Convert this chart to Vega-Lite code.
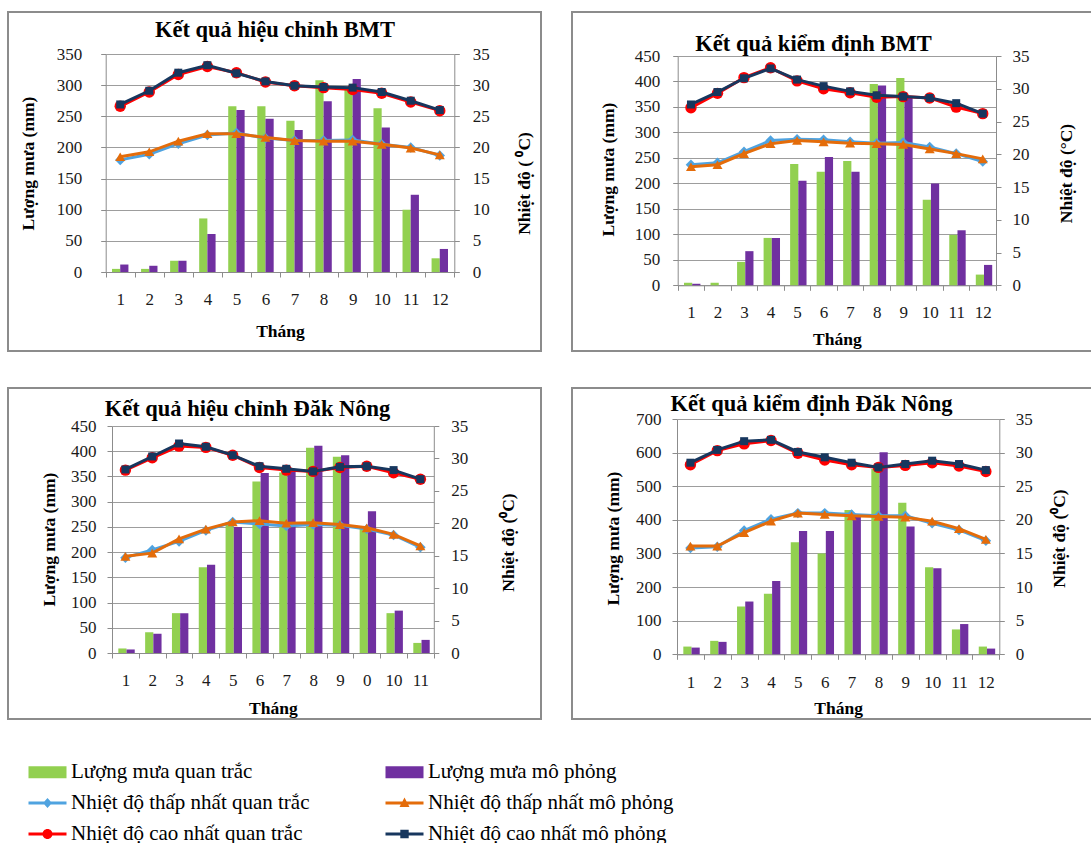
{
  "$schema": "https://vega.github.io/schema/vega-lite/v6.json",
  "padding": {"left": 7, "top": 11, "right": 0, "bottom": 0},
  "background": "white",
  "data": {"values": [
    {"p":"a","m":"1","ro":5,"rs":12,"tno":18.0,"tns":18.5,"txo":26.6,"txs":26.9},
    {"p":"a","m":"2","ro":5,"rs":10,"tno":18.9,"tns":19.3,"txo":28.9,"txs":29.1},
    {"p":"a","m":"3","ro":18,"rs":18,"tno":20.6,"tns":21.0,"txo":31.7,"txs":32.0},
    {"p":"a","m":"4","ro":86,"rs":61,"tno":22.0,"tns":22.2,"txo":33.0,"txs":33.2},
    {"p":"a","m":"5","ro":266,"rs":260,"tno":22.3,"tns":22.2,"txo":32.0,"txs":31.9},
    {"p":"a","m":"6","ro":266,"rs":246,"tno":21.5,"tns":21.6,"txo":30.5,"txs":30.6},
    {"p":"a","m":"7","ro":243,"rs":228,"tno":21.1,"tns":21.1,"txo":29.9,"txs":29.9},
    {"p":"a","m":"8","ro":308,"rs":274,"tno":21.1,"tns":21.0,"txo":29.6,"txs":29.7},
    {"p":"a","m":"9","ro":293,"rs":310,"tno":21.2,"tns":21.0,"txo":29.3,"txs":29.6},
    {"p":"a","m":"10","ro":263,"rs":232,"tno":20.5,"tns":20.5,"txo":28.7,"txs":28.9},
    {"p":"a","m":"11","ro":100,"rs":124,"tno":20.0,"tns":19.9,"txo":27.3,"txs":27.5},
    {"p":"a","m":"12","ro":22,"rs":37,"tno":18.7,"tns":18.8,"txo":25.9,"txs":26.0},
    {"p":"b","m":"1","ro":5,"rs":3,"tno":18.4,"tns":18.1,"txo":27.1,"txs":27.6},
    {"p":"b","m":"2","ro":5,"rs":0,"tno":18.7,"tns":18.4,"txo":29.3,"txs":29.5},
    {"p":"b","m":"3","ro":46,"rs":67,"tno":20.4,"tns":20.1,"txo":31.7,"txs":31.6},
    {"p":"b","m":"4","ro":93,"rs":93,"tno":22.1,"tns":21.6,"txo":33.2,"txs":33.1},
    {"p":"b","m":"5","ro":238,"rs":205,"tno":22.3,"tns":22.1,"txo":31.2,"txs":31.4},
    {"p":"b","m":"6","ro":223,"rs":252,"tno":22.2,"tns":21.9,"txo":30.0,"txs":30.4},
    {"p":"b","m":"7","ro":244,"rs":223,"tno":21.9,"tns":21.7,"txo":29.4,"txs":29.6},
    {"p":"b","m":"8","ro":395,"rs":392,"tno":21.7,"tns":21.6,"txo":28.7,"txs":29.0},
    {"p":"b","m":"9","ro":407,"rs":370,"tno":21.8,"tns":21.5,"txo":28.8,"txs":28.8},
    {"p":"b","m":"10","ro":168,"rs":200,"tno":21.1,"tns":20.8,"txo":28.6,"txs":28.6},
    {"p":"b","m":"11","ro":99,"rs":108,"tno":20.1,"tns":20.1,"txo":27.2,"txs":27.8},
    {"p":"b","m":"12","ro":21,"rs":40,"tno":18.9,"tns":19.3,"txo":26.2,"txs":26.2},
    {"p":"c","m":"1","ro":9,"rs":7,"tno":14.7,"tns":14.9,"txo":28.2,"txs":28.3},
    {"p":"c","m":"2","ro":41,"rs":38,"tno":15.9,"tns":15.4,"txo":30.1,"txs":30.3},
    {"p":"c","m":"3","ro":79,"rs":79,"tno":17.2,"tns":17.6,"txo":31.9,"txs":32.3},
    {"p":"c","m":"4","ro":170,"rs":175,"tno":18.9,"tns":19.1,"txo":31.7,"txs":31.8},
    {"p":"c","m":"5","ro":258,"rs":250,"tno":20.2,"tns":20.2,"txo":30.5,"txs":30.5},
    {"p":"c","m":"6","ro":340,"rs":357,"tno":19.9,"tns":20.4,"txo":28.6,"txs":28.8},
    {"p":"c","m":"7","ro":358,"rs":362,"tno":19.6,"tns":20.0,"txo":28.2,"txs":28.4},
    {"p":"c","m":"8","ro":407,"rs":411,"tno":19.8,"tns":20.1,"txo":28.0,"txs":28.0},
    {"p":"c","m":"9","ro":389,"rs":392,"tno":19.7,"tns":19.8,"txo":28.6,"txs":28.7},
    {"p":"c","m":"0","ro":250,"rs":281,"tno":19.1,"tns":19.3,"txo":28.8,"txs":28.8},
    {"p":"c","m":"10","ro":79,"rs":84,"tno":18.2,"tns":18.3,"txo":27.8,"txs":28.2},
    {"p":"c","m":"11","ro":20,"rs":26,"tno":16.3,"tns":16.5,"txo":26.8,"txs":26.8},
    {"p":"d","m":"1","ro":23,"rs":20,"tno":15.8,"tns":16.1,"txo":28.2,"txs":28.5},
    {"p":"d","m":"2","ro":40,"rs":37,"tno":16.0,"tns":16.1,"txo":30.3,"txs":30.4},
    {"p":"d","m":"3","ro":142,"rs":157,"tno":18.4,"tns":18.1,"txo":31.3,"txs":31.7},
    {"p":"d","m":"4","ro":180,"rs":218,"tno":20.1,"tns":19.8,"txo":31.8,"txs":31.9},
    {"p":"d","m":"5","ro":333,"rs":367,"tno":21.0,"tns":21.0,"txo":29.9,"txs":30.1},
    {"p":"d","m":"6","ro":300,"rs":367,"tno":21.0,"tns":20.8,"txo":28.9,"txs":29.3},
    {"p":"d","m":"7","ro":429,"rs":412,"tno":20.8,"tns":20.6,"txo":28.2,"txs":28.5},
    {"p":"d","m":"8","ro":551,"rs":601,"tno":20.6,"tns":20.5,"txo":27.8,"txs":27.8},
    {"p":"d","m":"9","ro":451,"rs":380,"tno":20.6,"tns":20.4,"txo":28.1,"txs":28.3},
    {"p":"d","m":"10","ro":259,"rs":256,"tno":19.5,"tns":19.8,"txo":28.5,"txs":28.8},
    {"p":"d","m":"11","ro":74,"rs":90,"tno":18.5,"tns":18.7,"txo":28.0,"txs":28.3},
    {"p":"d","m":"12","ro":23,"rs":17,"tno":16.9,"tns":17.1,"txo":27.2,"txs":27.4}
  ]},
  "spacing": 29,
  "hconcat": [
    {
      "spacing": 35,
      "vconcat": [
        {
          "width": 533, "height": 339,
          "transform": [{"filter": "datum.p == 'a'"}],
          "layer": [
            {"transform": [{"fold": ["ro", "rs"], "as": ["s", "v"]}],
             "mark": {"type": "bar"},
             "encoding": {
               "x": {"field": "m", "type": "ordinal", "sort": null, "title": "Tháng",
                 "scale": {"range": [97.7, 446.3], "paddingInner": 0, "paddingOuter": 0},
                 "axis": {"offset": -79, "labelAngle": 0, "tickBand": "extent", "labelPadding": 14, "titleY": 59, "titleBaseline": "middle", "grid": false}},
               "xOffset": {"field": "s", "type": "nominal", "sort": ["ro", "rs"], "scale": {"paddingInner": 0, "paddingOuter": 0.77}},
               "y": {"field": "v", "type": "quantitative", "scale": {"domain": [0, 350], "range": [260, 42], "nice": false},
                 "axis": {"orient": "left", "values": [0, 50, 100, 150, 200, 250, 300, 350], "offset": -97.7, "labelPadding": 19, "title": "Lượng mưa (mm)", "titleX": -77.7, "titleY": 151, "titleAngle": 270, "titleAlign": "center", "titleBaseline": "middle", "grid": true}},
               "color": {"field": "s", "type": "nominal",
                 "scale": {"domain": ["ro", "rs", "tno", "tns", "txo", "txs"], "range": ["#92D050", "#7030A0", "#4FA3E0", "#E46C0A", "#FF0000", "#17375E"]},
                 "legend": {
                   "orient": "none", "legendX": 29, "legendY": 749.5, "direction": "horizontal", "columns": 2, "columnPadding": 75, "rowPadding": 9,
                   "title": null, "symbolSize": 400, "labelOffset": 13, "labelFont": "Liberation Serif", "labelFontSize": 21, "labelColor": "#000", "labelLimit": 400, "padding": 0,
                   "labelExpr": "datum.value == 'ro' ? 'Lượng mưa quan trắc' : datum.value == 'rs' ? 'Lượng mưa mô phỏng' : datum.value == 'tno' ? 'Nhiệt độ thấp nhất quan trắc' : datum.value == 'tns' ? 'Nhiệt độ thấp nhất mô phỏng' : datum.value == 'txo' ? 'Nhiệt độ cao nhất quan trắc' : 'Nhiệt độ cao nhất mô phỏng'",
                   "encode": {"symbols": {"update": {
                     "shape": {"signal": "(datum.value == 'ro' || datum.value == 'rs') ? 'M-1.9,-0.6H1.9V0.6H-1.9Z' : datum.value == 'tno' ? 'M-1.9,-0.15H1.9V0.15H-1.9Z M0,-0.5L0.45,0L0,0.5L-0.45,0Z' : datum.value == 'tns' ? 'M-1.9,-0.15H1.9V0.15H-1.9Z M0,-0.55L0.5,0.4L-0.5,0.4Z' : datum.value == 'txo' ? 'M-1.9,-0.15H1.9V0.15H-1.9Z M-0.5,0A0.5,0.5,0,1,1,0.5,0A0.5,0.5,0,1,1,-0.5,0Z' : 'M-1.9,-0.15H1.9V0.15H-1.9Z M-0.42,-0.42H0.42V0.42H-0.42Z'"},
                     "fill": {"scale": "color", "field": "value"},
                     "stroke": {"value": "transparent"},
                     "strokeWidth": {"value": 0},
                     "opacity": {"value": 1}
                   }}}
                 }}
             }},
            {"transform": [{"fold": ["tno", "tns", "txo", "txs"], "as": ["s", "t"]}],
             "encoding": {
               "x": {"field": "m", "type": "ordinal", "sort": null,
                 "scale": {"range": [97.7, 446.3], "paddingInner": 0, "paddingOuter": 0},
                 "axis": {"orient": "top", "offset": 0, "labels": false, "ticks": false, "domain": false, "grid": false, "title": "Kết quả hiệu chỉnh BMT", "titleFontSize": 22.5, "titleX": 266.5, "titleY": 17, "titleAngle": 0, "titleAlign": "center", "titleBaseline": "middle"}},
               "y": {"field": "t", "type": "quantitative", "scale": {"domain": [0, 35], "range": [260, 42], "nice": false},
                 "axis": {"orient": "right", "values": [0, 5, 10, 15, 20, 25, 30, 35], "offset": -86.7, "labelPadding": 13, "title": "Nhiệt độ ( ⁰C)", "titleX": 70, "titleY": 171, "titleAngle": 270, "titleAlign": "center", "titleBaseline": "middle", "grid": false}},
               "color": {"field": "s", "type": "nominal", "legend": null}},
             "layer": [
               {"transform": [{"filter": "datum.s == 'tno'"}], "mark": {"type": "line", "strokeWidth": 3, "point": {"shape": "diamond", "size": 110, "filled": true, "opacity": 1}}},
               {"transform": [{"filter": "datum.s == 'tns'"}], "mark": {"type": "line", "strokeWidth": 3, "point": {"shape": "triangle-up", "size": 100, "filled": true, "opacity": 1}}},
               {"transform": [{"filter": "datum.s == 'txo'"}], "mark": {"type": "line", "strokeWidth": 3, "point": {"shape": "circle", "size": 130, "filled": true, "opacity": 1}}},
               {"transform": [{"filter": "datum.s == 'txs'"}], "mark": {"type": "line", "strokeWidth": 3, "point": {"shape": "square", "size": 64, "filled": true, "opacity": 1}}}
             ]}
          ],
          "resolve": {"scale": {"x": "independent", "y": "independent"}}
        },
        {
          "width": 533, "height": 331,
          "transform": [{"filter": "datum.p == 'c'"}],
          "layer": [
            {"transform": [{"fold": ["ro", "rs"], "as": ["s", "v"]}],
             "mark": {"type": "bar"},
             "encoding": {
               "x": {"field": "m", "type": "ordinal", "sort": null, "title": "Tháng",
                 "scale": {"range": [104, 425.8], "paddingInner": 0, "paddingOuter": 0},
                 "axis": {"offset": -66, "labelAngle": 0, "tickBand": "extent", "labelPadding": 14, "titleY": 55, "titleBaseline": "middle", "grid": false}},
               "xOffset": {"field": "s", "type": "nominal", "sort": ["ro", "rs"], "scale": {"paddingInner": 0, "paddingOuter": 0.63}},
               "y": {"field": "v", "type": "quantitative", "scale": {"domain": [0, 450], "range": [265, 38], "nice": false},
                 "axis": {"orient": "left", "values": [0, 50, 100, 150, 200, 250, 300, 350, 400, 450], "offset": -104, "labelPadding": 11, "title": "Lượng mưa (mm)", "titleX": -63, "titleY": 151, "titleAngle": 270, "titleAlign": "center", "titleBaseline": "middle", "grid": true}},
               "color": {"field": "s", "type": "nominal", "legend": null}
             }},
            {"transform": [{"fold": ["tno", "tns", "txo", "txs"], "as": ["s", "t"]}],
             "encoding": {
               "x": {"field": "m", "type": "ordinal", "sort": null,
                 "scale": {"range": [104, 425.8], "paddingInner": 0, "paddingOuter": 0},
                 "axis": {"orient": "top", "offset": 0, "labels": false, "ticks": false, "domain": false, "grid": false, "title": "Kết quả hiệu chỉnh Đăk Nông", "titleFontSize": 22.5, "titleX": 239, "titleY": 20, "titleAngle": 0, "titleAlign": "center", "titleBaseline": "middle"}},
               "y": {"field": "t", "type": "quantitative", "scale": {"domain": [0, 35], "range": [265, 38], "nice": false},
                 "axis": {"orient": "right", "values": [0, 5, 10, 15, 20, 25, 30, 35], "offset": -107.2, "labelPadding": 12, "title": "Nhiệt độ (⁰C)", "titleX": 75, "titleY": 154, "titleAngle": 270, "titleAlign": "center", "titleBaseline": "middle", "grid": false}},
               "color": {"field": "s", "type": "nominal", "legend": null}},
             "layer": [
               {"transform": [{"filter": "datum.s == 'tno'"}], "mark": {"type": "line", "strokeWidth": 3, "point": {"shape": "diamond", "size": 110, "filled": true, "opacity": 1}}},
               {"transform": [{"filter": "datum.s == 'tns'"}], "mark": {"type": "line", "strokeWidth": 3, "point": {"shape": "triangle-up", "size": 100, "filled": true, "opacity": 1}}},
               {"transform": [{"filter": "datum.s == 'txo'"}], "mark": {"type": "line", "strokeWidth": 3, "point": {"shape": "circle", "size": 130, "filled": true, "opacity": 1}}},
               {"transform": [{"filter": "datum.s == 'txs'"}], "mark": {"type": "line", "strokeWidth": 3, "point": {"shape": "square", "size": 64, "filled": true, "opacity": 1}}}
             ]}
          ],
          "resolve": {"scale": {"x": "independent", "y": "independent"}}
        }
      ]
    },
    {
      "spacing": 35,
      "vconcat": [
        {
          "width": 520, "height": 339,
          "transform": [{"filter": "datum.p == 'b'"}],
          "layer": [
            {"transform": [{"fold": ["ro", "rs"], "as": ["s", "v"]}],
             "mark": {"type": "bar"},
             "encoding": {
               "x": {"field": "m", "type": "ordinal", "sort": null, "title": "Tháng",
                 "scale": {"range": [105.7, 424], "paddingInner": 0, "paddingOuter": 0},
                 "axis": {"offset": -65.7, "labelAngle": 0, "tickBand": "extent", "labelPadding": 14, "titleY": 54, "titleBaseline": "middle", "grid": false}},
               "xOffset": {"field": "s", "type": "nominal", "sort": ["ro", "rs"], "scale": {"paddingInner": 0, "paddingOuter": 0.58}},
               "y": {"field": "v", "type": "quantitative", "scale": {"domain": [0, 450], "range": [273.3, 44], "nice": false},
                 "axis": {"orient": "left", "values": [0, 50, 100, 150, 200, 250, 300, 350, 400, 450], "offset": -105.7, "labelPadding": 13, "title": "Lượng mưa (mm)", "titleX": -69.7, "titleY": 157, "titleAngle": 270, "titleAlign": "center", "titleBaseline": "middle", "grid": true}},
               "color": {"field": "s", "type": "nominal", "legend": null}
             }},
            {"transform": [{"fold": ["tno", "tns", "txo", "txs"], "as": ["s", "t"]}],
             "encoding": {
               "x": {"field": "m", "type": "ordinal", "sort": null,
                 "scale": {"range": [105.7, 424], "paddingInner": 0, "paddingOuter": 0},
                 "axis": {"orient": "top", "offset": 0, "labels": false, "ticks": false, "domain": false, "grid": false, "title": "Kết quả kiểm định BMT", "titleFontSize": 22.5, "titleX": 241, "titleY": 31, "titleAngle": 0, "titleAlign": "center", "titleBaseline": "middle"}},
               "y": {"field": "t", "type": "quantitative", "scale": {"domain": [0, 35], "range": [273.3, 44], "nice": false},
                 "axis": {"orient": "right", "values": [0, 5, 10, 15, 20, 25, 30, 35], "offset": -96, "labelPadding": 11, "title": "Nhiệt độ (°C)", "titleX": 70, "titleY": 161, "titleAngle": 270, "titleAlign": "center", "titleBaseline": "middle", "grid": false}},
               "color": {"field": "s", "type": "nominal", "legend": null}},
             "layer": [
               {"transform": [{"filter": "datum.s == 'tno'"}], "mark": {"type": "line", "strokeWidth": 3, "point": {"shape": "diamond", "size": 110, "filled": true, "opacity": 1}}},
               {"transform": [{"filter": "datum.s == 'tns'"}], "mark": {"type": "line", "strokeWidth": 3, "point": {"shape": "triangle-up", "size": 100, "filled": true, "opacity": 1}}},
               {"transform": [{"filter": "datum.s == 'txo'"}], "mark": {"type": "line", "strokeWidth": 3, "point": {"shape": "circle", "size": 130, "filled": true, "opacity": 1}}},
               {"transform": [{"filter": "datum.s == 'txs'"}], "mark": {"type": "line", "strokeWidth": 3, "point": {"shape": "square", "size": 64, "filled": true, "opacity": 1}}}
             ]}
          ],
          "resolve": {"scale": {"x": "independent", "y": "independent"}}
        },
        {
          "width": 520, "height": 331,
          "transform": [{"filter": "datum.p == 'd'"}],
          "layer": [
            {"transform": [{"fold": ["ro", "rs"], "as": ["s", "v"]}],
             "mark": {"type": "bar"},
             "encoding": {
               "x": {"field": "m", "type": "ordinal", "sort": null, "title": "Tháng",
                 "scale": {"range": [105, 427.3], "paddingInner": 0, "paddingOuter": 0},
                 "axis": {"offset": -64.7, "labelAngle": 0, "tickBand": "extent", "labelPadding": 15, "titleY": 54, "titleBaseline": "middle", "grid": false}},
               "xOffset": {"field": "s", "type": "nominal", "sort": ["ro", "rs"], "scale": {"paddingInner": 0, "paddingOuter": 0.62}},
               "y": {"field": "v", "type": "quantitative", "scale": {"domain": [0, 700], "range": [266.3, 31], "nice": false},
                 "axis": {"orient": "left", "values": [0, 100, 200, 300, 400, 500, 600, 700], "offset": -105, "labelPadding": 11, "title": "Lượng mưa (mm)", "titleX": -64, "titleY": 150, "titleAngle": 270, "titleAlign": "center", "titleBaseline": "middle", "grid": true}},
               "color": {"field": "s", "type": "nominal", "legend": null}
             }},
            {"transform": [{"fold": ["tno", "tns", "txo", "txs"], "as": ["s", "t"]}],
             "encoding": {
               "x": {"field": "m", "type": "ordinal", "sort": null,
                 "scale": {"range": [105, 427.3], "paddingInner": 0, "paddingOuter": 0},
                 "axis": {"orient": "top", "offset": 0, "labels": false, "ticks": false, "domain": false, "grid": false, "title": "Kết quả kiểm định Đăk Nông", "titleFontSize": 22.5, "titleX": 239, "titleY": 15, "titleAngle": 0, "titleAlign": "center", "titleBaseline": "middle"}},
               "y": {"field": "t", "type": "quantitative", "scale": {"domain": [0, 35], "range": [266.3, 31], "nice": false},
                 "axis": {"orient": "right", "values": [0, 5, 10, 15, 20, 25, 30, 35], "offset": -92.7, "labelPadding": 11, "title": "Nhiệt độ (⁰C)", "titleX": 60, "titleY": 150, "titleAngle": 270, "titleAlign": "center", "titleBaseline": "middle", "grid": false}},
               "color": {"field": "s", "type": "nominal", "legend": null}},
             "layer": [
               {"transform": [{"filter": "datum.s == 'tno'"}], "mark": {"type": "line", "strokeWidth": 3, "point": {"shape": "diamond", "size": 110, "filled": true, "opacity": 1}}},
               {"transform": [{"filter": "datum.s == 'tns'"}], "mark": {"type": "line", "strokeWidth": 3, "point": {"shape": "triangle-up", "size": 100, "filled": true, "opacity": 1}}},
               {"transform": [{"filter": "datum.s == 'txo'"}], "mark": {"type": "line", "strokeWidth": 3, "point": {"shape": "circle", "size": 130, "filled": true, "opacity": 1}}},
               {"transform": [{"filter": "datum.s == 'txs'"}], "mark": {"type": "line", "strokeWidth": 3, "point": {"shape": "square", "size": 64, "filled": true, "opacity": 1}}}
             ]}
          ],
          "resolve": {"scale": {"x": "independent", "y": "independent"}}
        }
      ]
    }
  ],
  "config": {
    "view": {"stroke": "#8c8c8c", "strokeWidth": 2},
    "font": "Liberation Serif",
    "axis": {"labelFont": "Liberation Serif", "labelFontSize": 17, "labelColor": "#1a1a1a", "titleFont": "Liberation Serif", "titleFontSize": 17.5, "titleFontWeight": "bold", "titleColor": "#000", "domainColor": "#8c8c8c", "tickColor": "#8c8c8c", "gridColor": "#9d9d9d", "tickSize": 5, "labelFlush": false, "labelOverlap": false}
  }
}
